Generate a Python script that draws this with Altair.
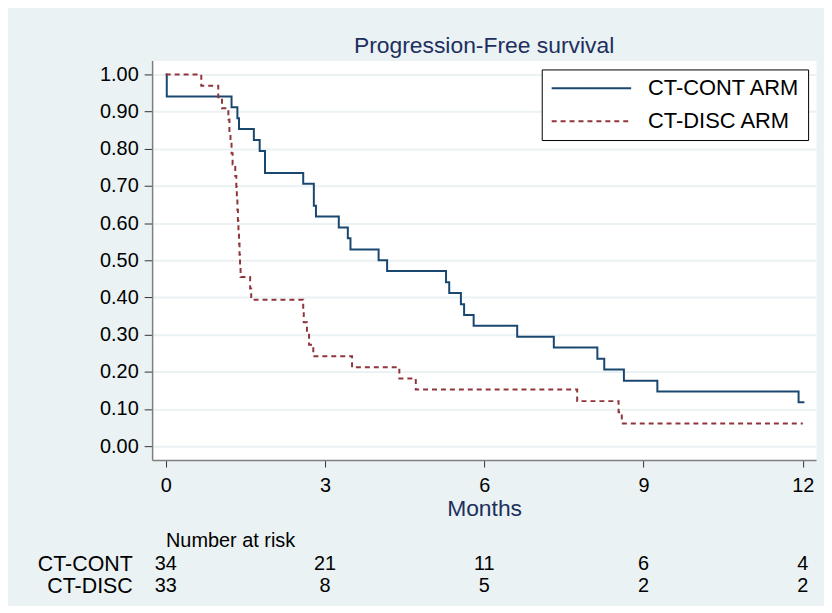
import altair as alt
import pandas as pd

# ---- data ----
series_names = ["CT-CONT ARM", "CT-DISC ARM"]

cont_time = [0.0, 0.02, 1.24, 1.35, 1.38, 1.66, 1.77, 1.87, 2.59, 2.79, 2.83, 3.26, 3.43, 3.48,
             4.01, 4.17, 5.28, 5.34, 5.56, 5.62, 5.80, 6.62, 7.31, 8.13, 8.26, 8.63, 9.26,
             11.92, 12.03]
cont_surv = [1.000, 0.941, 0.912, 0.882, 0.853, 0.824, 0.794, 0.735, 0.706, 0.647, 0.618,
             0.588, 0.559, 0.529, 0.500, 0.471, 0.441, 0.412, 0.382, 0.353, 0.324, 0.294,
             0.265, 0.235, 0.206, 0.176, 0.147, 0.118, 0.118]

disc_time = [0.0, 0.67, 0.99, 1.06, 1.18, 1.20, 1.22, 1.24, 1.26, 1.31, 1.33, 1.34, 1.35,
             1.36, 1.37, 1.38, 1.39, 1.40, 1.41, 1.59, 1.61, 2.59, 2.60, 2.66, 2.70, 2.78,
             3.51, 4.40, 4.71, 7.75, 8.53, 8.59, 12.00]
disc_surv = [1.000, 0.970, 0.939, 0.909, 0.879, 0.848, 0.818, 0.788, 0.758, 0.727, 0.697,
             0.667, 0.636, 0.606, 0.576, 0.545, 0.515, 0.485, 0.455, 0.424, 0.394, 0.364,
             0.333, 0.303, 0.273, 0.242, 0.212, 0.182, 0.152, 0.121, 0.091, 0.061, 0.061]

risk_rows = ["CT-CONT", "CT-DISC"]
risk_time = [0, 3, 6, 9, 12]
risk_cont = [34, 21, 11, 6, 4]
risk_disc = [33, 8, 5, 2, 2]

x_ticks = [0, 3, 6, 9, 12]
y_ticks = [0.0, 0.1, 0.2, 0.3, 0.4, 0.5, 0.6, 0.7, 0.8, 0.9, 1.0]

# ---- styling ----
FONT = "Liberation Sans"
NAVY = "#1e2f5e"
BLUE = "#1A476F"
RED = "#90353B"
BG = "#EAF2F3"
GRAY = "#7f7f7f"
X_DOMAIN = [-0.256, 12.249]
Y_DOMAIN = [-0.0376, 1.0376]

curves = pd.DataFrame({
    "time": cont_time + disc_time,
    "surv": cont_surv + disc_surv,
    "arm": [series_names[0]] * len(cont_time) + [series_names[1]] * len(disc_time),
    "ord": list(range(len(cont_time))) + list(range(len(disc_time))),
})

risk = pd.DataFrame({
    "time": risk_time + risk_time,
    "row": [risk_rows[0]] * len(risk_time) + [risk_rows[1]] * len(risk_time),
    "n": risk_cont + risk_disc,
})

legend = alt.Legend(title=None, orient="none", legendX=392, legendY=9)

main = alt.Chart(curves).mark_line(interpolate="step-after", strokeWidth=2).encode(
    x=alt.X("time:Q",
            scale=alt.Scale(domain=X_DOMAIN, nice=False, zero=False),
            axis=alt.Axis(values=x_ticks, title="Months", grid=False, tickSize=7,
                          labelPadding=9, titlePadding=2, titleFontSize=23,
                          titleColor=NAVY, titleFontWeight="normal")),
    y=alt.Y("surv:Q",
            scale=alt.Scale(domain=Y_DOMAIN, nice=False, zero=False),
            axis=alt.Axis(values=y_ticks, format=".2f", title=None, grid=True,
                          gridColor=BG, gridWidth=2, tickSize=8, labelPadding=6)),
    color=alt.Color("arm:N", scale=alt.Scale(domain=series_names, range=[BLUE, RED]),
                    legend=legend),
    strokeDash=alt.StrokeDash("arm:N",
                              scale=alt.Scale(domain=series_names, range=[[1, 0], [5, 4]]),
                              legend=legend),
    order="ord:Q",
).properties(
    width=668, height=402,
    title=alt.TitleParams("Progression-Free survival", fontSize=23, fontWeight="normal",
                          color=NAVY, anchor="middle", frame="group", offset=3),
    view=alt.ViewBackground(fill="white", stroke="transparent"),
)

table = alt.Chart(risk).mark_text(fontSize=20, font=FONT, color="black").encode(
    x=alt.X("time:Q", scale=alt.Scale(domain=X_DOMAIN, nice=False, zero=False), axis=None),
    y=alt.Y("row:N", sort=risk_rows,
            axis=alt.Axis(title=None, ticks=False, domain=False, grid=False,
                          labelFontSize=21.5, labelPadding=20, labelColor="black")),
    text="n:Q",
).properties(
    width=668, height=44,
    title=alt.TitleParams("Number at risk", fontSize=20, fontWeight="normal", color="black",
                          anchor="start", frame="group", dx=14, offset=3),
    view=alt.ViewBackground(stroke="transparent"),
)

chart = alt.vconcat(main, table, spacing=8).properties(
    padding={"left": 28, "top": 24, "right": 7, "bottom": 6},
    background=BG,
).configure(font=FONT).configure_axis(
    labelFont=FONT, titleFont=FONT, labelFontSize=20, labelColor="black",
    domainColor=GRAY, domainWidth=1.5, tickColor="#333333", tickWidth=1,
).configure_title(font=FONT).configure_legend(
    labelFont=FONT, labelFontSize=22, labelColor="black",
    symbolType="M-4,0H4", symbolSize=400, symbolOffset=31,
    symbolStrokeWidth=2, labelOffset=46, rowPadding=11,
    padding=8, strokeColor="black", fillColor="white", cornerRadius=0,
)

chart.save("out.html", embed_options={"renderer": "svg", "actions": False})
